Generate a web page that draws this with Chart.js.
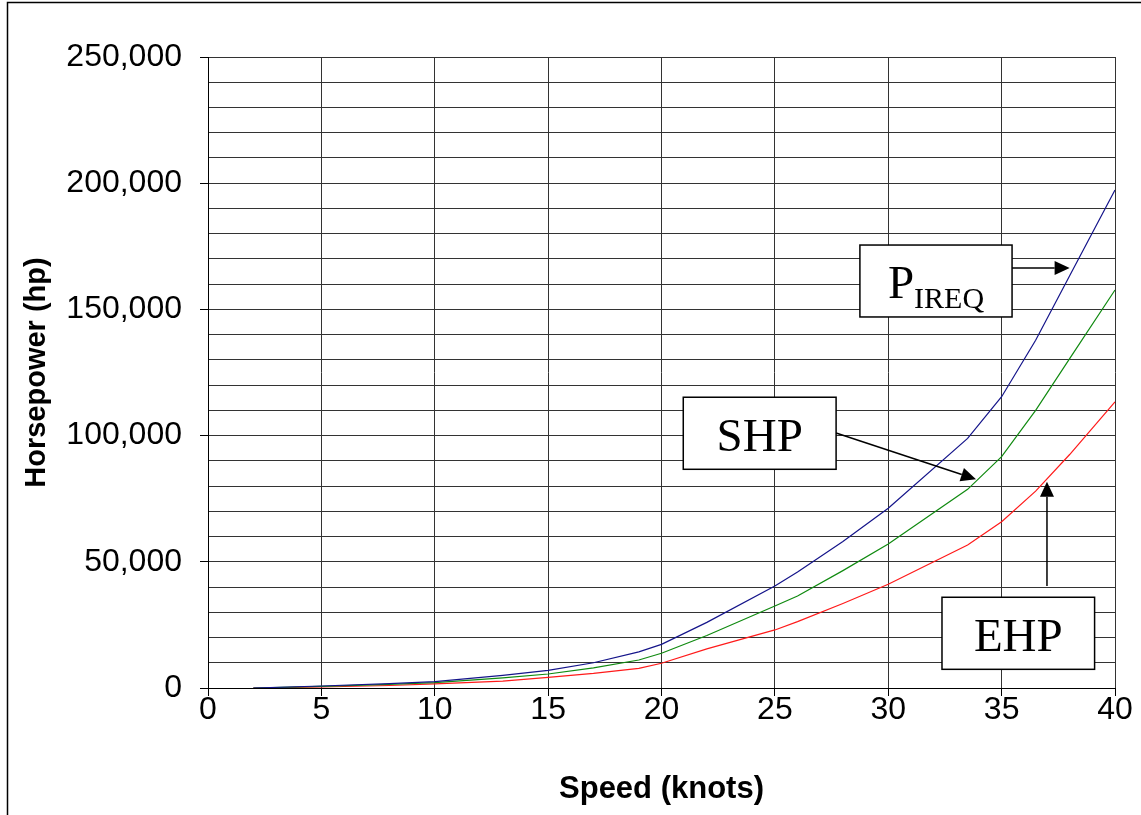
<!DOCTYPE html>
<html>
<head>
<meta charset="utf-8">
<script src="https://cdn.jsdelivr.net/npm/chart.js@4.4.0/dist/chart.umd.min.js"></script>
<style>
  body { margin: 0; background: #fff; }
  #chart { display: block; }
</style>
</head>
<body>
<canvas id="chart" width="1141" height="815"></canvas>
<script>
// speed in knots, horsepower
var speeds = [2, 5, 8, 10, 13, 15, 17, 19, 20, 22, 25, 26, 28, 30, 33.5, 35, 36.5, 38, 40];
var pireq  = [0, 800, 1700, 2500, 5000, 7000, 10000, 14300, 17300, 26000, 40400, 46000, 58000, 71200, 98900, 115400, 137800, 163300, 197300];
var shp    = [0, 650, 1400, 2100, 4000, 5550, 8000, 11100, 13750, 20800, 32500, 36450, 46500, 57050, 78700, 91650, 110000, 130500, 157700];
var ehp    = [0, 400, 1000, 1600, 2700, 4240, 5800, 7800, 9800, 15500, 23000, 26300, 33500, 41100, 56650, 65900, 78000, 92500, 113400];

function pts(vals) {
  var out = [];
  for (var i in speeds) {
    out.push({x: speeds[i], y: vals[i]});
  }
  return out;
}

// callout boxes and arrows, in data units (knots, hp)
var boxes = [
  {x0: 28.75, x1: 35.46, y0: 175500, y1: 147000, main: 'P', sub: 'IREQ'},
  {x0: 20.96, x1: 27.70, y0: 115200, y1: 86650, main: 'SHP'},
  {x0: 32.37, x1: 39.10, y0: 35950, y1: 7400, main: 'EHP'}
];
var arrows = [
  {fx: 35.46, fy: 166400, tx: 38.0, ty: 166400},
  {fx: 27.70, fy: 101000, tx: 33.87, ty: 82700},
  {fx: 37.0, fy: 40400, tx: 37.0, ty: 81700}
];

var framePlugin = {
  id: 'frame',
  beforeDraw: function(chart) {
    var c = chart.ctx;
    c.save();
    c.fillStyle = '#fff';
    c.fillRect(0, 0, chart.width, chart.height);
    c.strokeStyle = '#000';
    c.lineWidth = 1.5;
    c.beginPath();
    c.moveTo(7.5, chart.height);
    c.lineTo(7.5, 2.5);
    c.lineTo(chart.width, 2.5);
    c.stroke();
    c.restore();
  }
};

var calloutPlugin = {
  id: 'callouts',
  afterDatasetsDraw: function(chart) {
    var c = chart.ctx;
    var xs = chart.scales.x, ys = chart.scales.y;
    c.save();
    boxes.forEach(function(b) {
      var l = xs.getPixelForValue(b.x0), r = xs.getPixelForValue(b.x1);
      var t = ys.getPixelForValue(b.y0), btm = ys.getPixelForValue(b.y1);
      c.fillStyle = '#fff';
      c.fillRect(l, t, r - l, btm - t);
      c.strokeStyle = '#000';
      c.lineWidth = 1.5;
      c.strokeRect(l, t, r - l, btm - t);
      c.fillStyle = '#000';
      c.textBaseline = 'alphabetic';
      var cx = (l + r) / 2, base = t + (btm - t) * 0.75;
      if (b.sub) {
        c.font = '47px "Liberation Serif", serif';
        var w1 = c.measureText(b.main).width;
        c.font = '30px "Liberation Serif", serif';
        var w2 = c.measureText(b.sub).width;
        var sx = cx - (w1 + w2) / 2;
        c.textAlign = 'left';
        c.font = '47px "Liberation Serif", serif';
        c.fillText(b.main, sx, t + (btm - t) * 0.74);
        c.font = '30px "Liberation Serif", serif';
        c.fillText(b.sub, sx + w1, t + (btm - t) * 0.88);
      } else {
        c.font = '47px "Liberation Serif", serif';
        c.textAlign = 'center';
        c.fillText(b.main, cx, base);
      }
    });
    arrows.forEach(function(a) {
      var x1 = xs.getPixelForValue(a.fx), y1 = ys.getPixelForValue(a.fy);
      var x2 = xs.getPixelForValue(a.tx), y2 = ys.getPixelForValue(a.ty);
      var ang = Math.atan2(y2 - y1, x2 - x1);
      var len = 15, half = 7;
      var bx = x2 - len * Math.cos(ang), by = y2 - len * Math.sin(ang);
      c.strokeStyle = '#000';
      c.lineWidth = 1.5;
      c.beginPath();
      c.moveTo(x1, y1);
      c.lineTo(bx, by);
      c.stroke();
      c.fillStyle = '#000';
      c.beginPath();
      c.moveTo(x2, y2);
      c.lineTo(bx + half * Math.sin(ang), by - half * Math.cos(ang));
      c.lineTo(bx - half * Math.sin(ang), by + half * Math.cos(ang));
      c.closePath();
      c.fill();
    });
    c.restore();
  }
};

var ctx = document.getElementById('chart');
var chart = new Chart(ctx, {
  type: 'line',
  data: {
    datasets: [
      {label: 'PIREQ', data: pts(pireq), borderColor: '#14148a', borderWidth: 1.2},
      {label: 'SHP', data: pts(shp), borderColor: '#108a10', borderWidth: 1.2},
      {label: 'EHP', data: pts(ehp), borderColor: '#ff1a1a', borderWidth: 1.2}
    ]
  },
  options: {
    responsive: false,
    animation: false,
    elements: {
      point: {radius: 0},
      line: {tension: 0, fill: false}
    },
    layout: {padding: {left: 8, right: 26, top: 57, bottom: 0}},
    plugins: {
      legend: {display: false},
      tooltip: {enabled: false}
    },
    scales: {
      x: {
        type: 'linear',
        min: 0,
        max: 40,
        ticks: {
          stepSize: 5,
          color: '#000',
          padding: -5,
          maxRotation: 0,
          autoSkip: false,
          font: {family: '"Liberation Sans", Arial, sans-serif', size: 32}
        },
        grid: {color: '#333', tickColor: '#000', tickLength: 8},
        border: {color: '#000', width: 1},
        title: {
          display: true,
          text: 'Speed (knots)',
          color: '#000',
          padding: {top: 0, bottom: 7},
          font: {family: '"Liberation Sans", Arial, sans-serif', size: 31, weight: 'bold'}
        },
        afterFit: function(scale) { scale.height = 127; }
      },
      y: {
        min: 0,
        max: 250000,
        ticks: {
          stepSize: 10000,
          maxTicksLimit: 30,
          autoSkip: false,
          color: '#000',
          padding: 18,
          font: {family: '"Liberation Sans", Arial, sans-serif', size: 32},
          callback: function(v) {
            return v % 50000 === 0 ? v.toLocaleString('en-US') : '';
          }
        },
        grid: {
          color: '#333',
          tickLength: 8,
          tickColor: function(c) {
            return c.tick && c.tick.value % 50000 === 0 ? '#000' : 'rgba(0,0,0,0)';
          }
        },
        border: {color: '#000', width: 1},
        title: {
          display: true,
          text: 'Horsepower (hp)',
          color: '#000',
          padding: {top: 12, bottom: 0},
          font: {family: '"Liberation Sans", Arial, sans-serif', size: 29, weight: 'bold'}
        },
        afterFit: function(scale) { scale.width = 200; }
      }
    }
  },
  plugins: [framePlugin, calloutPlugin]
});
</script>
</body>
</html>
